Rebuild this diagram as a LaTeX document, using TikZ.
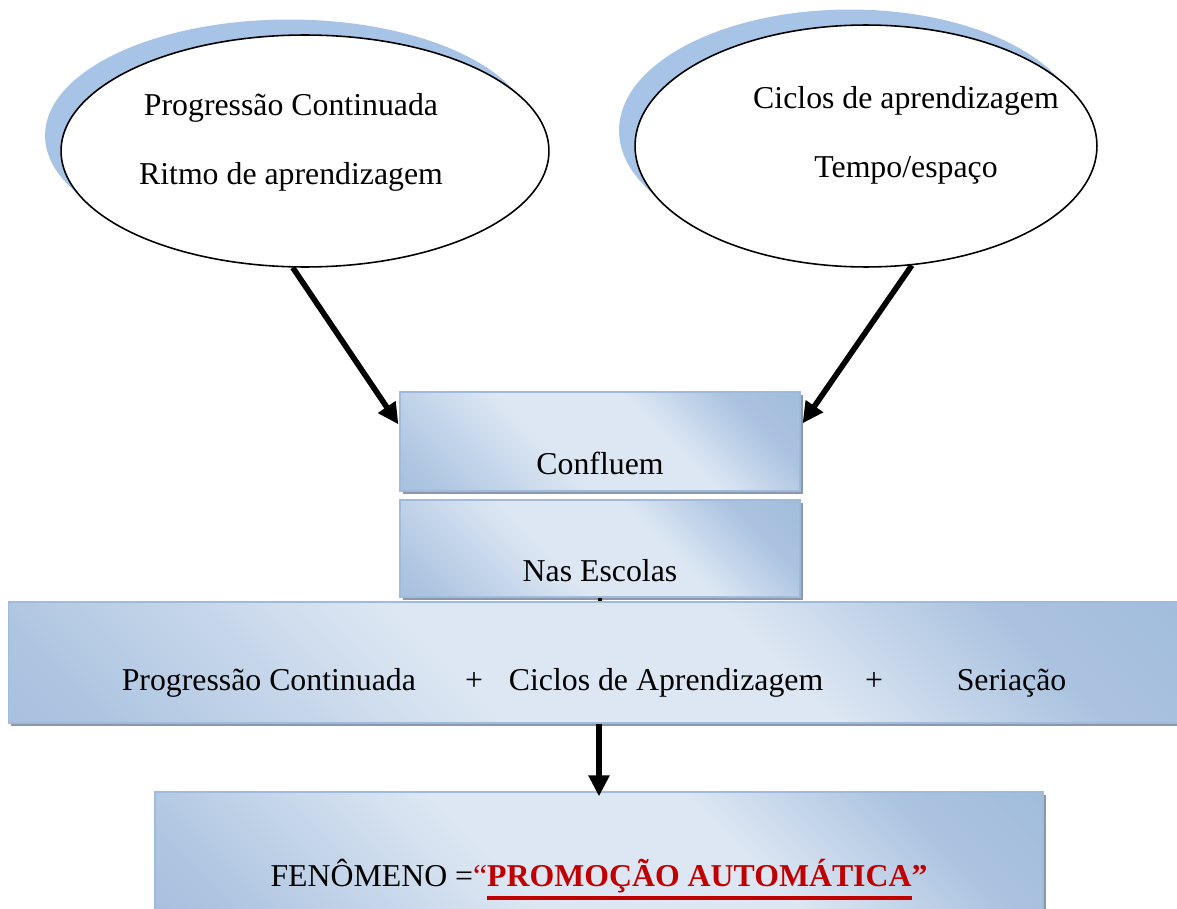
\documentclass[tikz,border=0pt]{standalone}
\usepackage{fontspec}
\setmainfont{Liberation Serif}
\usetikzlibrary{shapes.geometric,shadows,arrows.meta,calc}
\definecolor{bubbleblue}{RGB}{167,195,230}
\definecolor{panellight}{RGB}{221,231,243}
\definecolor{paneldark}{RGB}{149,179,215}
\definecolor{panelline}{RGB}{160,186,220}
\definecolor{panelshadow}{RGB}{140,152,170}
\definecolor{promored}{RGB}{192,0,0}
\pgfdeclareverticalshading{panelshade}{100bp}{color(0bp)=(paneldark); color(25bp)=(paneldark!70!panellight); color(40bp)=(panellight); color(58bp)=(panellight); color(80bp)=(paneldark!65!panellight); color(100bp)=(paneldark)}
\newcommand{\promoul}[1]{\leavevmode\vtop{\hbox{#1}\kern1.6pt\hrule height 2.2pt}}

\begin{document}
\begin{tikzpicture}[x=0.02cm,y=-0.02cm,font=\fontsize{18.1}{22}\selectfont,
  bubble/.style={ellipse,draw=black,line width=0.9pt,fill=white,
    general shadow={fill=bubbleblue,shadow xshift=-0.32cm,shadow yshift=0.31cm}},
  panel/.style={rectangle,draw=panelline,line width=0.7pt,shading=panelshade,
    shading angle=135,inner ysep=0pt,
    general shadow={fill=panelshadow,shadow xshift=0.06cm,shadow yshift=-0.06cm}},
  flow/.style={line width=3.2pt,-{Triangle[length=0.42cm,width=0.4cm]}}]
  \clip (0,0) rectangle (1177,909);

  \node[bubble,minimum width=9.76cm,minimum height=4.64cm] (prog) at (305,151) {};
  \node[anchor=base] (progA) at (291,116) {Progressão Continuada};
  \node[anchor=base] (progB) at (291,185) {Ritmo de aprendizagem};

  \node[bubble,minimum width=9.24cm,minimum height=4.84cm] (ciclos) at (866,146) {};
  \node[anchor=base] (ciclosA) at (906,109) {Ciclos de aprendizagem};
  \node[anchor=base] (ciclosB) at (906,177) {Tempo/espaço};

  \node[panel,minimum width=8cm,text height=1.66cm,text depth=0.32cm] (conf) at (600,441.5) {Confluem};
  \node[panel,minimum width=8cm,text height=1.64cm,text depth=0.30cm] (escolas) at (600,548.5) {Nas Escolas};
  \draw [line width=2.8pt] (escolas.south) -- (escolas.south |- 0,603);
  \node[panel,minimum width=23.44cm,text height=1.76cm,text depth=0.66cm] (soma) at (594,662.5)
    {Progressão Continuada\hspace{28pt}+\hspace{14.7pt}Ciclos de Aprendizagem\hspace{23.8pt}+\hspace{42pt}Seriação};
  \node[panel,minimum width=17.76cm,text height=1.90cm,text depth=0.50cm] (fen) at (599,852)
    {FENÔMENO =\textcolor{promored}{“\textbf{\promoul{PROMOÇÃO AUTOMÁTICA}”}}};

  \draw [flow] (prog.-96) -- ($(conf.north west)+(-1,33)$);
  \draw [flow] (ciclos.-69) -- ($(conf.north east)+(2,32)$);
  \draw [flow] (soma.south -| fen.north) -- ($(fen.north)+(0,5)$);
\end{tikzpicture}
\end{document}
